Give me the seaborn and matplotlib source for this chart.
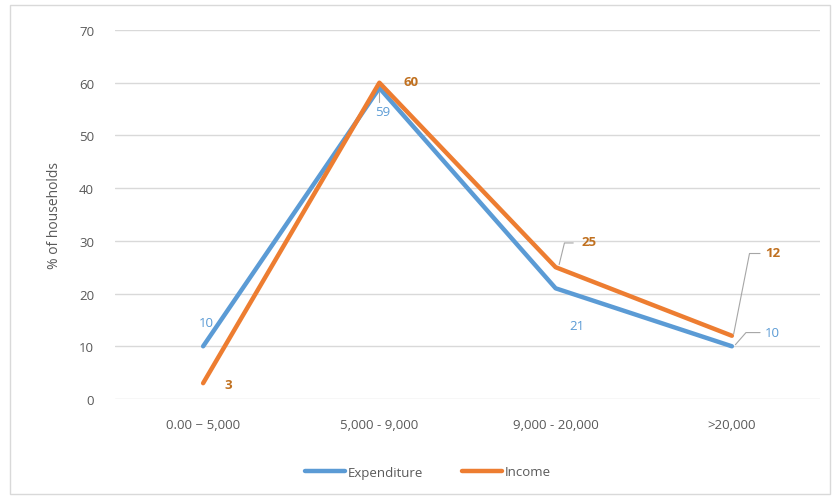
import numpy as np
import pandas as pd
import seaborn as sns
import matplotlib
matplotlib.use('Agg')
import matplotlib.pyplot as plt
from matplotlib.patches import Rectangle
from matplotlib.lines import Line2D

# ── data ──
categories = ['0.00 \u2212 5,000', '5,000 - 9,000', '9,000 - 20,000', '>20,000']
expenditure = [10, 59, 21, 10]
income = [3, 60, 25, 12]
y_ticks = [0, 10, 20, 30, 40, 50, 60, 70]

df = pd.DataFrame({
    'band': categories * 2,
    'pct': expenditure + income,
    'series': ['Expenditure'] * 4 + ['Income'] * 4,
})
df['x'] = list(range(4)) * 2

BLUE, ORANGE = '#5B9BD5', '#ED7D31'
BLUE_TXT, ORANGE_TXT = '#5B9BD5', '#C0701F'
GREY = '#595959'

sns.set_theme(style='white')
plt.rcParams['font.family'] = ['Open Sans', 'DejaVu Sans']

fig = plt.figure(figsize=(8.36, 5.02), dpi=100)
ax = fig.add_axes([115 / 836, 1 - 400 / 502, 705 / 836, 369 / 502])

# outer chart border
fig.patches.append(Rectangle((10 / 836, 1 - 495 / 502), 820 / 836, 489 / 502,
                             transform=fig.transFigure, fill=False,
                             edgecolor='#D9D9D9', lw=1))

sns.lineplot(data=df, x='x', y='pct', hue='series', palette=[BLUE, ORANGE],
             lw=3.2, ax=ax, legend=False, sort=False)

ax.set_xlim(-0.5, 3.5)
ax.set_ylim(0, 70)
ax.set_yticks(y_ticks)
ax.set_xticks(range(4))
ax.set_xticklabels(categories)
ax.tick_params(axis='both', length=0, colors=GREY, labelsize=9.5)
ax.tick_params(axis='x', pad=14)
ax.tick_params(axis='y', pad=15)
ax.yaxis.grid(True, color='#D9D9D9', lw=1)
for s in ax.spines.values():
    s.set_visible(False)
ax.set_xlabel('')
ax.set_ylabel('% of households', color=GREY, fontsize=10, labelpad=12)

# data labels
fs = 9.5
lead = dict(color='#A6A6A6', lw=0.8)
ax.text(0.02, 14.6, '10', color=BLUE_TXT, fontsize=fs, ha='center', va='center')
ax.text(0.14, 2.7, '3', color=ORANGE_TXT, fontsize=fs, ha='center', va='center', fontweight='bold')
ax.text(1.18, 60.3, '60', color=ORANGE_TXT, fontsize=fs, ha='center', va='center', fontweight='bold')
ax.plot([1, 1], [58.2, 56.3], **lead)
ax.text(1.02, 54.6, '59', color=BLUE_TXT, fontsize=fs, ha='center', va='center')
ax.plot([2.02, 2.05, 2.1], [25.5, 29.6, 29.6], **lead)
ax.text(2.19, 29.8, '25', color=ORANGE_TXT, fontsize=fs, ha='center', va='center', fontweight='bold')
ax.text(2.12, 14.0, '21', color=BLUE_TXT, fontsize=fs, ha='center', va='center')
ax.plot([3.01, 3.1, 3.16], [12.3, 27.6, 27.6], **lead)
ax.text(3.23, 27.7, '12', color=ORANGE_TXT, fontsize=fs, ha='center', va='center', fontweight='bold')
ax.plot([3.02, 3.08, 3.16], [10.3, 12.6, 12.6], **lead)
ax.text(3.23, 12.7, '10', color=BLUE_TXT, fontsize=fs, ha='center', va='center')

# legend
handles = [Line2D([], [], color=BLUE, lw=3.2), Line2D([], [], color=ORANGE, lw=3.2)]
fig.legend(handles, ['Expenditure', 'Income'], loc='center',
           bbox_to_anchor=(428 / 836, 1 - 473 / 502), ncol=2, frameon=False,
           fontsize=9.5, labelcolor=GREY, handlelength=3.0, handletextpad=0.2,
           columnspacing=3.0)

fig.savefig('out.png', dpi=100)
